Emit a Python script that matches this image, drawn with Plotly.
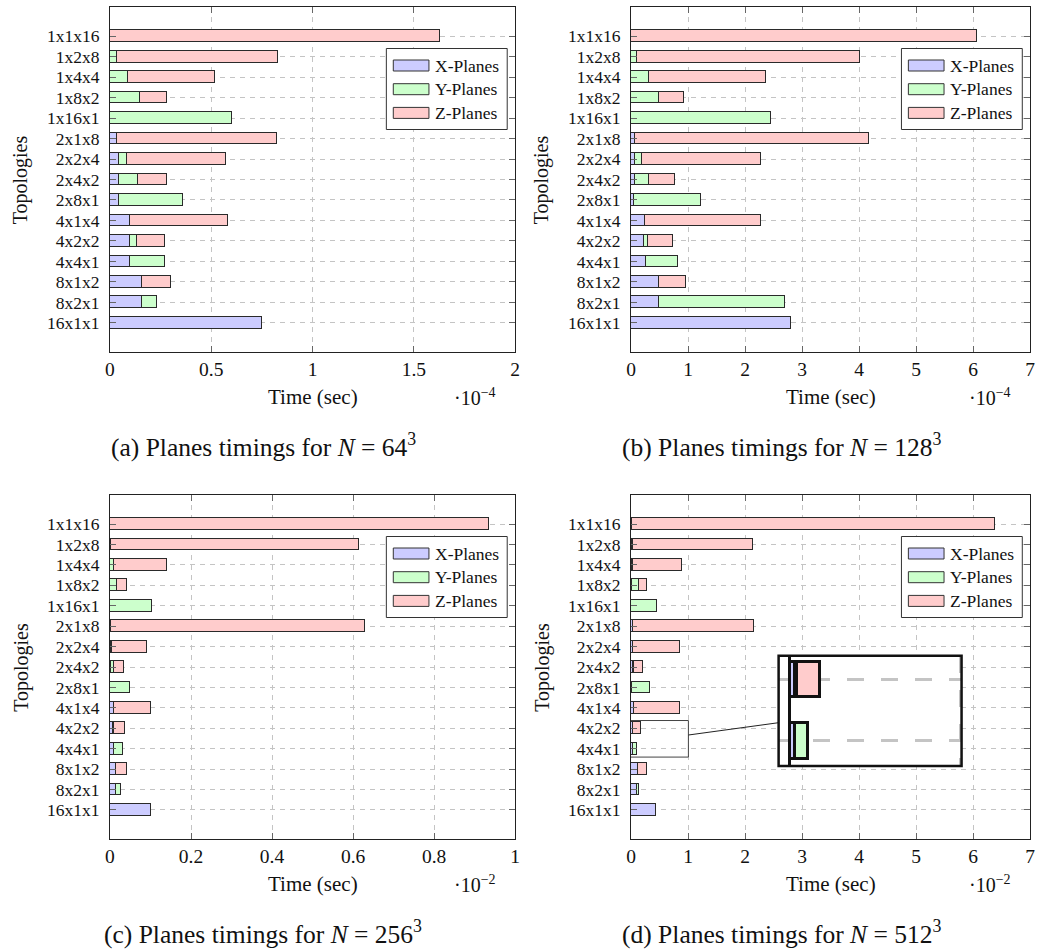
import plotly.graph_objects as go

# ---------------------------------------------------------------- data
topologies = ["1x1x16", "1x2x8", "1x4x4", "1x8x2", "1x16x1", "2x1x8", "2x2x4",
              "2x4x2", "2x8x1", "4x1x4", "4x2x2", "4x4x1", "8x1x2", "8x2x1", "16x1x1"]

# N = 64^3, times in units of 1e-4 s (None = no such component)
x_planes_64 = [None, None, None, None, None, 0.033, 0.042, 0.042, 0.042, 0.101, 0.101, 0.101, 0.160, 0.160, 0.752]
y_planes_64 = [None, 0.033, 0.091, 0.150, 0.600, None, 0.040, 0.098, 0.320, None, 0.030, 0.170, None, 0.072, None]
z_planes_64 = [1.631, 0.797, 0.429, 0.131, None, 0.789, 0.489, 0.141, None, 0.481, 0.140, None, 0.142, None, None]

# N = 128^3, times in units of 1e-4 s
x_planes_128 = [None, None, None, None, None, 0.064, 0.064, 0.075, 0.052, 0.237, 0.225, 0.260, 0.497, 0.497, 2.798]
y_planes_128 = [None, 0.104, 0.324, 0.491, 2.451, None, 0.121, 0.249, 1.168, None, 0.075, 0.572, None, 2.202, None]
z_planes_128 = [6.075, 3.913, 2.046, 0.440, None, 4.104, 2.098, 0.456, None, 2.046, 0.434, None, 0.468, None, None]

# N = 256^3, times in units of 1e-2 s
x_planes_256 = [None, 0.001, 0.001, None, None, 0.003, 0.003, 0.002, 0.001, 0.010, 0.008, 0.010, 0.016, 0.016, 0.100]
y_planes_256 = [None, 0.002, 0.008, 0.017, 0.1035, None, 0.002, 0.009, 0.048, None, 0.003, 0.022, None, 0.010, None]
z_planes_256 = [0.935, 0.612, 0.131, 0.025, None, 0.626, 0.086, 0.024, None, 0.091, 0.025, None, 0.026, None, None]

# N = 512^3, times in units of 1e-2 s
x_planes_512 = [0.005, 0.010, 0.010, 0.010, None, 0.030, 0.030, 0.030, 0.020, 0.046, 0.030, 0.030, 0.116, 0.104, 0.445]
y_planes_512 = [0.010, 0.020, 0.030, 0.129, 0.462, None, 0.005, 0.016, 0.321, None, 0.012, 0.080, None, 0.035, None]
z_planes_512 = [6.365, 2.109, 0.862, 0.138, None, 2.120, 0.832, 0.156, None, 0.815, 0.133, None, 0.173, None, None]

series_names = ["X-Planes", "Y-Planes", "Z-Planes"]
series_fill = ["#ccccff", "#ccffcc", "#ffcccc"]

panel_data = [
    (x_planes_64, y_planes_64, z_planes_64),
    (x_planes_128, y_planes_128, z_planes_128),
    (x_planes_256, y_planes_256, z_planes_256),
    (x_planes_512, y_planes_512, z_planes_512),
]
x_ranges = [[0, 2], [0, 7], [0, 1], [0, 7]]
x_dticks = [0.5, 1, 0.2, 1]
exponents = ["−4", "−4", "−2", "−2"]
captions = ["(a) Planes timings for <i>N</i> = 64<sup>3</sup>",
            "(b) Planes timings for <i>N</i> = 128<sup>3</sup>",
            "(c) Planes timings for <i>N</i> = 256<sup>3</sup>",
            "(d) Planes timings for <i>N</i> = 512<sup>3</sup>"]

# ---------------------------------------------------------------- layout helpers
W, H = 1057, 949
FONT = "Liberation Serif, Times New Roman, serif"


def px(x):
    return x / W


def py(y):
    return 1 - y / H


# plot boxes in pixels: left, right, top, bottom
boxes = [(106, 515, 7, 352), (632, 1035, 7, 352), (106, 515, 495, 839), (632, 1035, 495, 839)]

fig = go.Figure()
shapes = []
annotations = []
layout = {}

for i, (vals, xr, dt, exp, cap, box) in enumerate(zip(panel_data, x_ranges, x_dticks, exponents, captions, boxes)):
    s = "" if i == 0 else str(i + 1)
    l, r, t, b = box
    for name, fill, v in zip(series_names, series_fill, vals):
        fig.add_trace(go.Bar(
            y=topologies, x=v, name=name, orientation="h", width=0.58,
            marker=dict(color=fill, line=dict(color="#2a2a2a", width=1)),
            xaxis="x" + s, yaxis="y" + s, showlegend=False))

    layout["xaxis" + s] = dict(
        domain=[px(l), px(r)], anchor="y" + s, range=xr, dtick=dt, tick0=0,
        showline=True, linecolor="#222", linewidth=1, mirror="ticks",
        ticks="inside", ticklen=6, tickcolor="#666", tickwidth=1,
        showgrid=True, gridcolor="#c4c4c4", gridwidth=1, griddash="5px,5px",
        zeroline=False, tickfont=dict(family=FONT, size=19.5, color="#111"))
    layout["yaxis" + s] = dict(
        domain=[py(b), py(t)], anchor="x" + s, type="category",
        categoryorder="array", categoryarray=topologies, range=[15.42, -1.42],
        tickmode="linear", tick0=0, dtick=1,
        showline=True, linecolor="#222", linewidth=1, mirror="ticks",
        ticks="inside", ticklen=6, tickcolor="#666", tickwidth=1,
        showgrid=True, gridcolor="#c4c4c4", gridwidth=1, griddash="5px,5px",
        zeroline=False, ticklabelstandoff=6,
        tickfont=dict(family=FONT, size=17.5, color="#111"))

    cx = (l + r) / 2
    annotations += [
        dict(text="Time (sec)", x=px(cx), y=py(b + 45), xref="paper", yref="paper",
             showarrow=False, xanchor="center", yanchor="middle",
             font=dict(family=FONT, size=21, color="#111")),
        dict(text="·10<sup>" + exp + "</sup>", x=px(r - 41), y=py(b + 45), xref="paper", yref="paper",
             showarrow=False, xanchor="center", yanchor="middle",
             font=dict(family=FONT, size=20, color="#111")),
        dict(text="Topologies", x=px(l - 90), y=py((t + b) / 2), xref="paper", yref="paper",
             showarrow=False, textangle=-90, xanchor="center", yanchor="middle",
             font=dict(family=FONT, size=20, color="#111")),
        dict(text=cap, x=px(cx - 50), y=py(b + 93), xref="paper", yref="paper",
             showarrow=False, xanchor="center", yanchor="middle",
             font=dict(family=FONT, size=25.5, color="#111")),
    ]

    # legend box
    lg_r = r - 8
    lg_l = lg_r - 122
    lg_t = t + 41.5
    lg_b = lg_t + 81
    shapes.append(dict(type="rect", xref="paper", yref="paper", layer="above",
                       x0=px(lg_l), x1=px(lg_r), y0=py(lg_b), y1=py(lg_t),
                       fillcolor="white", line=dict(color="#333", width=1)))
    for k, (name, fill) in enumerate(zip(series_names, series_fill)):
        cy = lg_t + 17 + 23.7 * k
        shapes.append(dict(type="rect", xref="paper", yref="paper", layer="above",
                           x0=px(lg_l + 7), x1=px(lg_l + 43), y0=py(cy + 5.5), y1=py(cy - 5.5),
                           fillcolor=fill, line=dict(color="#333", width=1)))
        annotations.append(dict(text=name, x=px(lg_l + 47), y=py(cy), xref="paper", yref="paper",
                                showarrow=False, xanchor="left", yanchor="middle",
                                font=dict(family=FONT, size=17.5, color="#111")))

# ---------------------------------------------------------------- magnified view in (d)
ins_l, ins_r, ins_t, ins_b = 781, 965.7, 655.7, 766
for name, fill, v in zip(series_names, series_fill, panel_data[3]):
    fig.add_trace(go.Bar(
        y=topologies, x=v, name=name, orientation="h", width=0.58,
        marker=dict(color=fill, line=dict(color="#111", width=3)),
        xaxis="x5", yaxis="y5", showlegend=False))

layout["xaxis5"] = dict(
    domain=[px(ins_l), px(ins_r)], anchor="y5", range=[-0.062, 1.006],
    tickvals=[1], showticklabels=False, ticks="",
    showgrid=True, gridcolor="#c4c4c4", gridwidth=3, griddash="17px,17px",
    zeroline=True, zerolinecolor="#111", zerolinewidth=3, showline=False)
layout["yaxis5"] = dict(
    domain=[py(ins_b), py(ins_t)], anchor="x5", type="category",
    categoryorder="array", categoryarray=topologies, range=[11.41, 9.62],
    tickmode="linear", tick0=0, dtick=1,
    showticklabels=False, ticks="",
    showgrid=True, gridcolor="#c4c4c4", gridwidth=3, griddash="17px,17px",
    zeroline=False, showline=False)

# zoom window on the main axes, its connector and the inset frame
shapes += [
    dict(type="rect", xref="x4", yref="y4", x0=-0.057, x1=1.006, y0=9.62, y1=11.41,
         line=dict(color="#444", width=1), layer="above"),
    dict(type="line", xref="paper", yref="paper", x0=px(690), y0=py(735), x1=px(781), y1=py(722.7),
         line=dict(color="#222", width=1), layer="above"),
    dict(type="rect", xref="paper", yref="paper", x0=px(ins_l), x1=px(ins_r), y0=py(ins_b), y1=py(ins_t),
         line=dict(color="#111", width=2.5), layer="above"),
]

fig.update_layout(
    width=W, height=H, margin=dict(l=0, r=0, t=0, b=0),
    paper_bgcolor="white", plot_bgcolor="white",
    barmode="stack", bargap=0, showlegend=False,
    shapes=shapes, annotations=annotations, **layout)

fig.write_html("out.html")
